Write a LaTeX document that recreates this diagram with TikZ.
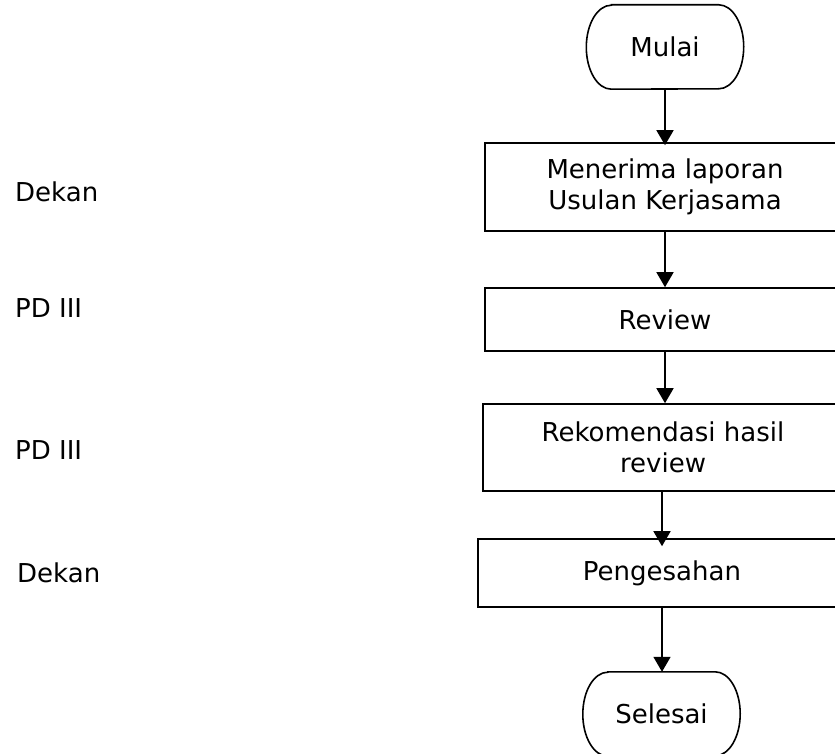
\documentclass[tikz,border=0pt]{standalone}
\usepackage{fontspec}
\setmainfont{DejaVu Sans}
\usetikzlibrary{arrows.meta}
\tikzset{
  txt/.style={font=\fontsize{26}{31}\selectfont, inner sep=0pt},
  procbox/.style={txt, draw, line width=1.6pt, minimum width=360pt, align=center},
  termnode/.style={txt, minimum width=157pt, minimum height=84pt},
  flow/.style={line width=1.6pt, -{Triangle[length=15pt,width=17pt]}},
  lab/.style={txt, anchor=base west}
}
\newcommand\termoutline[1]{%
  \draw[line width=1.6pt] ([xshift=25pt]#1.north west) -- ([xshift=-25pt]#1.north east)
    arc[start angle=90,end angle=-90,x radius=25pt,y radius=42pt]
    -- ([xshift=25pt]#1.south west)
    arc[start angle=270,end angle=90,x radius=25pt,y radius=42pt] -- cycle;}
\begin{document}
\begin{tikzpicture}[x=1pt,y=-1pt]
\useasboundingbox (0,0) rectangle (835,754);
\clip (0,0) rectangle (835,754);
\fill[white] (0,0) rectangle (835,754);
% terminators
\node[termnode] (mulai) at (665,47) {Mulai};
\termoutline{mulai}
\node[termnode] (selesai) at (661.5,714) {Selesai};
\termoutline{selesai}
% process boxes
\node[procbox, minimum height=88pt] (t1) at (665,187) {Menerima laporan\\Usulan Kerjasama};
\node[procbox, minimum height=63pt] (t2) at (665,319.5) {Review};
\node[procbox, minimum height=87pt] (t3) at (663,447.5) {Rekomendasi hasil\\review};
\node[procbox, minimum width=368pt, minimum height=68pt] (t4) at (662,573) {Pengesahan};
% labels
\node[lab] (l1) at (15,202) {Dekan};
\node[lab] (l2) at (15,317) {PD III};
\node[lab] (l3) at (15,459) {PD III};
\node[lab] (l4) at (17,582) {Dekan};
% connectors
\draw[flow, shorten >=-3pt] (mulai.south) -- (t1.north);
\draw[flow] (t1.south) -- (t2.north);
\draw[flow] (t2.south) -- (t2.south |- t3.north);
\draw[flow, shorten >=-8pt] (t3.south -| t4.north) -- (t4.north);
\draw[flow] (t4.south) -- (t4.south |- selesai.north);
\end{tikzpicture}
\end{document}
